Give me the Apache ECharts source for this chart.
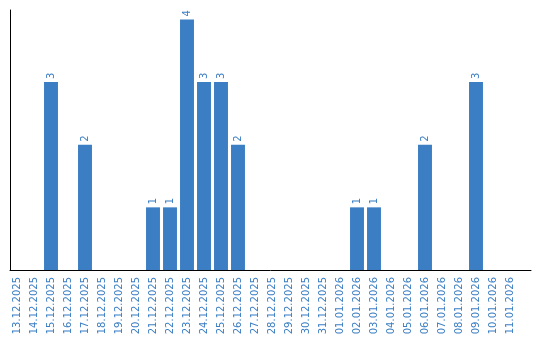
<!DOCTYPE html>
<html><head><meta charset="utf-8">
<script src="https://cdn.jsdelivr.net/npm/echarts@6/dist/echarts.min.js"></script>
<style>html,body{margin:0;padding:0;background:#fff}#c{width:540px;height:340px}</style>
</head><body><div id="c"></div>
<script>
const categories = ["13.12.2025","14.12.2025","15.12.2025","16.12.2025","17.12.2025","18.12.2025","19.12.2025","20.12.2025","21.12.2025","22.12.2025","23.12.2025","24.12.2025","25.12.2025","26.12.2025","27.12.2025","28.12.2025","29.12.2025","30.12.2025","31.12.2025","01.01.2026","02.01.2026","03.01.2026","04.01.2026","05.01.2026","06.01.2026","07.01.2026","08.01.2026","09.01.2026","10.01.2026","11.01.2026"];
const values = [0,0,3,0,2,0,0,0,1,1,4,3,3,2,0,0,0,0,0,0,1,1,0,0,2,0,0,3,0,0];
const blue = '#3b7ec3';
const chart = echarts.init(document.getElementById('c'), null, {renderer:'canvas'});
chart.setOption({
  animation:false,
  grid:[
    {left:8.5, width:510, top:10, bottom:70},
    {left:10, right:9, top:10, bottom:70}
  ],
  xAxis:[
    {type:'category', gridIndex:0, data:categories,
     axisLine:{show:false}, axisTick:{show:false},
     axisLabel:{interval:0, rotate:90, color:blue, fontSize:10, fontFamily:'DejaVu Sans', margin:7}},
    {type:'value', gridIndex:1, min:0, max:1, axisLine:{show:true, lineStyle:{color:'#000', width:1}},
     axisTick:{show:false}, axisLabel:{show:false}, splitLine:{show:false}}
  ],
  yAxis:[
    {type:'value', gridIndex:0, min:0, max:4.15, axisLine:{show:false}, axisTick:{show:false},
     axisLabel:{show:false}, splitLine:{show:false}},
    {type:'value', gridIndex:1, min:0, max:1, axisLine:{show:true, lineStyle:{color:'#000', width:1}},
     axisTick:{show:false}, axisLabel:{show:false}, splitLine:{show:false}}
  ],
  series:[{
    type:'bar', xAxisIndex:0, yAxisIndex:0,
    data:values.map(v => v === 0 ? null : v),
    barCategoryGap:'18%',
    itemStyle:{color:blue},
    label:{show:true, position:'top', rotate:90, align:'left', verticalAlign:'middle',
      distance:3, color:blue, fontSize:10, fontFamily:'DejaVu Sans'}
  }]
});
</script></body></html>
